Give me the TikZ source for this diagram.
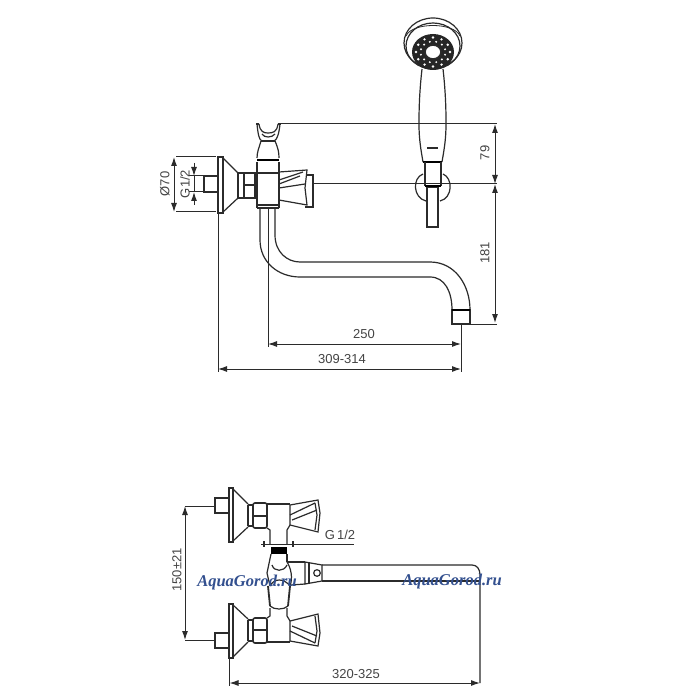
\documentclass[tikz,border=0pt]{standalone}
\usepackage{fontspec}
\setmainfont{Liberation Sans}
\newfontfamily\markfont{Liberation Serif}
\usetikzlibrary{arrows.meta}
\definecolor{inkgray}{HTML}{2B2B2B}
\definecolor{textgray}{HTML}{444444}
\definecolor{markblue}{HTML}{33508F}
\tikzset{
  part/.style={draw=inkgray,line width=1.2pt},
  thin part/.style={draw=inkgray,line width=0.8pt},
  heavy/.style={draw=black,line width=2.2pt},
  dimline/.style={draw=inkgray,line width=1pt},
  dimboth/.style={dimline,{Latex[length=9pt,width=6pt]}-{Latex[length=9pt,width=6pt]}},
  dimend/.style={dimline,-{Latex[length=9pt,width=6pt]}},
  dimtext/.style={text=textgray,font=\fontsize{13}{15}\selectfont,inner sep=0pt},
  watermark/.style={text=markblue,font=\markfont\bfseries\itshape\fontsize{16.5}{18}\selectfont,inner sep=0pt}
}
\begin{document}
\begin{tikzpicture}[x=1pt,y=-1pt]
\useasboundingbox (0,0) rectangle (700,700);
\fill[white] (0,0) rectangle (700,700);
% shower head
\draw[part] (433,43) ellipse (29 and 25);
\draw[thin part] (406,36) .. controls (412,22) and (454,22) .. (460,36);
\draw[part] (433,46) ellipse (27 and 23);
\fill[black!85] (433,52) ellipse (21 and 18);
\foreach \i in {0,30,...,330} {
  \fill[white] (433,52) ++(\i:17 and 14.5) circle (1.3);
  \fill[white] (433,52) ++(\i+15:12.5 and 10.5) circle (1.1);
}
\draw[part,fill=white,line width=1.6pt] (433,52) ellipse (8 and 7);
\draw[part] (422,69) .. controls (419,95) and (419,115) .. (419,124) .. controls (419,140) and (421,150) .. (423,162);
\draw[part] (443,69) .. controls (446,95) and (446,115) .. (446,124) .. controls (446,140) and (444,150) .. (442,162);
\draw[heavy] (423,162) -- (442,162);
\draw[part,line width=1.6pt] (427,148) -- (438,148);
\draw[part] (425,162) -- (425,186);
\draw[part] (441,162) -- (441,186);
% wall holder
\draw[part] (423,174) .. controls (412,178) and (413,198) .. (426,201);
\draw[part] (443,174) .. controls (453,178) and (453,198) .. (440,201);
\draw[part,fill=white] (427,187) rectangle (438,227);
\draw[heavy,line width=1.6pt] (425,186) -- (441,186);
% top view valve
\draw[part] (218,157) rectangle (223,213);
\draw[part] (223,158) -- (238,173);
\draw[part] (223,212) -- (238,198);
\draw[part] (204,176) rectangle (218,192);
\draw[part,line width=1.6pt] (238,173) rectangle (255,198);
\draw[part] (244,173) -- (244,198);
\draw[part] (244,185) -- (255,185);
\draw[part] (257,162) -- (257,208);
\draw[part] (279,162) -- (279,208);
\draw[part] (255,173) -- (279,173);
\draw[part] (255,198) -- (257,198);
\draw[part] (257,205) -- (279,205);
\draw[part] (257,208) -- (279,208);
\draw[part] (279,172) -- (307,170) -- (305,188) -- (307,205) -- (279,200);
\draw[part] (279,180) -- (303,172);
\draw[part] (279,188) -- (305,184);
\draw[part] (279,184) -- (300,176);
\draw[part] (307,175) -- (313,175) -- (313,207) -- (305,207);
% brace on top of the valve
\draw[part] (257,124) .. controls (258,134) and (259,140) .. (262,141);
\draw[part] (280,124) .. controls (279,134) and (277,140) .. (274,141);
\draw[part,line width=1.6pt] (256,124) -- (259,124);
\draw[part,line width=1.6pt] (278,124) -- (281,124);
\draw[part] (259,124) .. controls (260,132) and (264,133) .. (268,133) .. controls (273,133) and (277,132) .. (278,124);
\draw[part] (262,134) .. controls (264,138) and (272,138) .. (275,134);
\draw[part] (261,141) -- (275,141);
\draw[part] (261,141) .. controls (259,148) and (257,152) .. (257,158);
\draw[part] (275,141) .. controls (278,148) and (279,152) .. (279,158);
\draw[heavy] (257,160) -- (279,160);
% spout
\draw[part] (260,208) -- (260,240) .. controls (260,262) and (278,277) .. (300,277) -- (430,277) .. controls (445,277) and (452,292) .. (452,310);
\draw[part] (275,208) -- (275,235) .. controls (275,252) and (287,262) .. (300,262) -- (430,262) .. controls (455,262) and (470,285) .. (470,310);
\draw[part] (452,310) rectangle (470,324);
\draw[heavy,line width=1.6pt] (452,310) -- (470,310);
% top view dimensions
\draw[dimline] (176,157) -- (216,157);
\draw[dimline] (176,212) -- (216,212);
\draw[dimboth] (174,157) -- (174,212);
\node[dimtext,rotate=90] (dseventy) at (165,184) {Ø70};
\draw[dimline] (189,176) -- (204,176);
\draw[dimline] (189,192) -- (204,192);
\draw[dimend] (194,163) -- (194,176);
\draw[dimend] (194,205) -- (194,192);
\draw[dimline] (194,176) -- (194,192);
\node[dimtext,rotate=90] (gtop) at (185,184) {G1/2};
\draw[dimline] (281,124) -- (497,124);
\draw[dimline] (313,184) -- (497,184);
\draw[dimline] (470,324) -- (497,324);
\draw[dimboth] (495,124) -- (495,184);
\draw[dimboth] (495,184) -- (495,323);
\node[dimtext,rotate=90] (hseventynine) at (485,153) {79};
\node[dimtext,rotate=90] (hspout) at (485,253) {181};
\draw[dimline] (268,208) -- (268,347);
\draw[dimline] (461,324) -- (461,372);
\draw[dimline] (218,214) -- (218,372);
\draw[dimboth] (268,344) -- (461,344);
\draw[dimboth] (218,369) -- (461,369);
\node[dimtext] (wspout) at (364,334) {250};
\node[dimtext] (wtotal) at (342,359) {309-314};
% bottom view upper valve
\draw[part] (229,488) rectangle (233,542);
\draw[part] (233,489) -- (248,504);
\draw[part] (233,541) -- (248,527);
\draw[part] (215,498) rectangle (229,513);
\draw[part,line width=1.6pt,rounded corners=2pt] (253,503) rectangle (267,528);
\draw[part] (248,505) -- (253,505);
\draw[part] (248,526) -- (253,526);
\draw[part] (248,505) -- (248,526);
\draw[part] (253,516) -- (267,516);
\draw[part] (267,504) -- (290,504);
\draw[part] (267,528) -- (270,530) -- (270,544);
\draw[part] (290,525) -- (287,530) -- (287,544);
\draw[part] (290,505) -- (318,500) -- (320,513) -- (318,532) -- (290,525) -- cycle;
\draw[part] (290,515) -- (315,503);
\draw[part] (292,520) -- (317,510);
\draw[part] (315,503) -- (317,515) -- (315,530);
% bottom view lower valve
\begin{scope}[shift={(0,1146)},yscale=-1]
\draw[part] (229,488) rectangle (233,542);
\draw[part] (233,489) -- (248,504);
\draw[part] (233,541) -- (248,527);
\draw[part] (215,498) rectangle (229,513);
\draw[part,line width=1.6pt,rounded corners=2pt] (253,503) rectangle (267,528);
\draw[part] (248,505) -- (253,505);
\draw[part] (248,526) -- (253,526);
\draw[part] (248,505) -- (248,526);
\draw[part] (253,516) -- (267,516);
\draw[part] (267,504) -- (290,504);
\draw[part] (267,528) -- (270,530) -- (270,538);
\draw[part] (290,525) -- (287,530) -- (287,538);
\draw[part] (290,505) -- (318,500) -- (320,513) -- (318,532) -- (290,525) -- cycle;
\draw[part] (290,515) -- (315,503);
\draw[part] (292,520) -- (317,510);
\draw[part] (315,503) -- (317,515) -- (315,530);
\end{scope}
% bottom view centre
\fill[black] (271,547) rectangle (287,554);
\draw[part] (271,554) -- (267,573) -- (270,586);
\draw[part] (287,554) -- (287,562);
\draw[part] (272,565) .. controls (274,572) and (284,572) .. (287,565);
\draw[part] (287,562) .. controls (291,568) and (293,578) .. (290,586);
\draw[part] (270,586) .. controls (274,578) and (284,578) .. (290,586);
\draw[part] (287,562) -- (305,562);
\draw[part] (291,585) -- (305,584);
\draw[part] (305,562) -- (322,565) -- (322,581) -- (305,584) -- cycle;
\draw[part] (309,563) -- (309,584);
\draw[part] (317,573) circle (3.3);
\draw[part,line width=1.8pt] (268,586) -- (270,606);
\draw[part,line width=1.8pt] (290,586) -- (288,606);
\draw[part] (270,606) .. controls (274,610) and (284,610) .. (288,606);
\draw[part] (322,565) -- (472,565) .. controls (477,565) and (480,569) .. (480,575) -- (480,683);
\draw[part] (322,581) -- (480,581);
% bottom view dimensions
\draw[dimline] (261,544) -- (354,544);
\draw[part,line width=1.8pt] (264,541) -- (264,547);
\draw[part,line width=1.8pt] (293,541) -- (293,547);
\node[dimtext] (gbottom) at (340,535) {G\,1/2};
\draw[dimline] (185,506) -- (215,506);
\draw[dimline] (185,640) -- (215,640);
\draw[dimboth] (185,506) -- (185,640);
\node[dimtext,rotate=90] (hvalves) at (177,570) {150±21};
\draw[dimline] (229.5,658) -- (229.5,686);
\draw[dimboth] (229.5,683) -- (480,683);
\node[dimtext] (wbottom) at (356,674) {320-325};
% site marks
\node[watermark] (markleft) at (247,583) {AquaGorod.ru};
\node[watermark] (markright) at (452,582) {AquaGorod.ru};
\end{tikzpicture}
\end{document}
